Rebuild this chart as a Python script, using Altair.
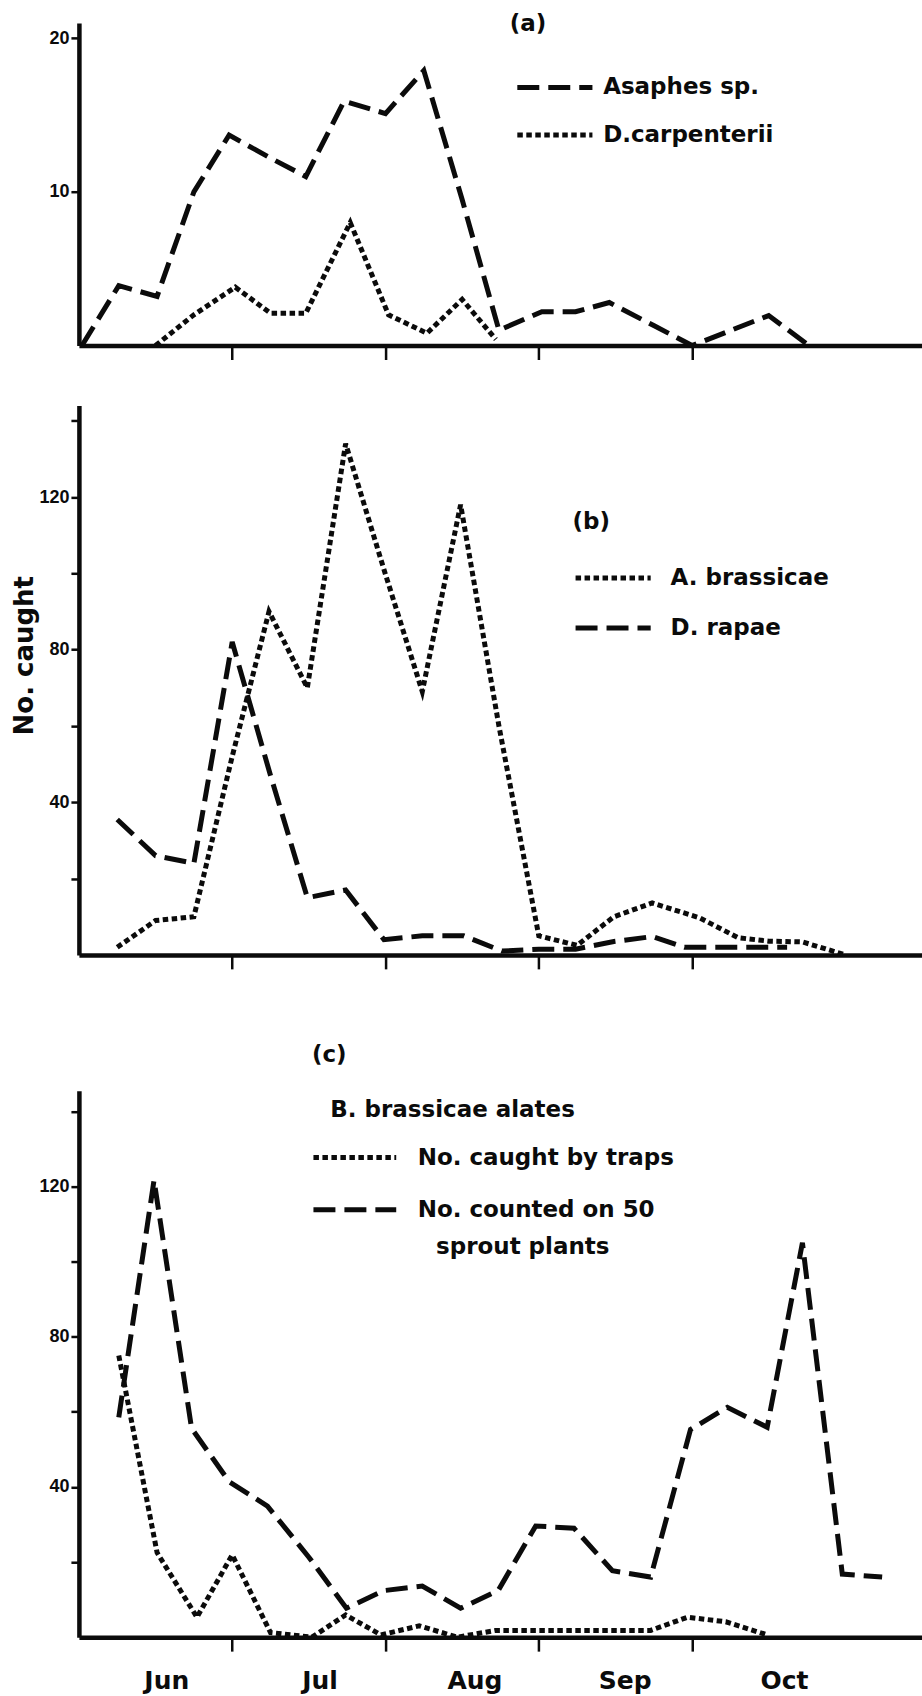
import altair as alt
import pandas as pd

# x positions are in months after 1 June (1 = 1 Jul, 2 = 1 Aug, ...)
MONTHS = ["Jun", "Jul", "Aug", "Sep", "Oct"]
MONTH_LABEL_POS = [0.57, 1.57, 2.58, 3.56, 4.6]
MONTH_TICKS = [1, 2, 3, 4]
X_MAX = 5.5

# ---- (a) parasitoids ----
asaphes_x = [0.02, 0.26, 0.51, 0.75, 0.98, 1.25, 1.48, 1.73, 2.0, 2.25, 2.5,
             2.74, 3.02, 3.24, 3.46, 3.75, 4.0, 4.5, 4.75]
asaphes_y = [0, 3.9, 3.2, 10.0, 13.7, 12.2, 11.0, 15.9, 15.1, 17.9, 9.5,
             1.0, 2.2, 2.2, 2.8, 1.3, 0, 1.95, 0.1]
carp_x = [0.5, 0.75, 1.02, 1.25, 1.48, 1.77, 2.02, 2.27, 2.5, 2.72]
carp_y = [0, 2.0, 3.8, 2.1, 2.1, 8.0, 2.0, 0.8, 3.0, 0.4]

# ---- (b) ----
abras_x = [0.25, 0.5, 0.75, 1.0, 1.24, 1.49, 1.74, 1.99, 2.24, 2.49, 2.74,
           3.0, 3.25, 3.49, 3.74, 4.05, 4.3, 4.5, 4.72, 5.0]
abras_y = [2, 9, 10, 52, 90, 70, 134, 101, 69, 118, 60,
           5, 2.5, 10, 13.6, 9.7, 4.5, 3.6, 3.4, 0]
rapae_x = [0.25, 0.5, 0.75, 1.0, 1.25, 1.49, 1.74, 1.99, 2.24, 2.51, 2.76,
           3.0, 3.24, 3.49, 3.74, 3.95, 4.25, 4.62]
rapae_y = [35.5, 26, 24, 82, 47, 15, 17, 4, 5, 5, 1,
           1.5, 1.5, 3.5, 4.8, 2, 2, 2]

# ---- (c) B. brassicae alates ----
traps_x = [0.26, 0.51, 0.77, 1.0, 1.25, 1.52, 1.74, 1.97, 2.22, 2.47, 2.72,
           2.97, 3.22, 3.47, 3.73, 3.97, 4.22, 4.49]
traps_y = [75, 22.5, 5.3, 21.9, 1.2, 0, 5.9, 0.6, 3.0, 0, 1.8,
           1.8, 1.8, 1.8, 1.8, 5.3, 4.1, 0.6]
plants_x = [0.26, 0.49, 0.735, 0.98, 1.23, 1.5, 1.745, 1.99, 2.24, 2.49, 2.735,
            2.98, 3.23, 3.48, 3.73, 3.99, 4.23, 4.49, 4.72, 4.98, 5.24]
plants_y = [58.5, 121.7, 55.6, 41.4, 34.9, 21.3, 7.7, 12.4, 13.6, 7.7, 12.4,
            29.6, 29.0, 17.7, 16.0, 55.3, 61.2, 55.9, 105, 16.8, 16.0]

INK = "#0b0b0b"
NUM_FONT = "Liberation Sans"
TXT_FONT = "DejaVu Sans"
WIDTH = 844

DASH = alt.Scale(domain=["dashed", "dotted"], range=[[22, 9], [5.5, 3.5]])


def lines_frame(*series):
    frames = []
    for name, style, xs, ys in series:
        frames.append(pd.DataFrame({"m": xs, "v": ys, "series": name, "style": style}))
    return pd.concat(frames, ignore_index=True)


def panel(lines, keys, texts, y_max, height, y_values, y_label_expr,
          y_title=None, month_labels=False):
    if month_labels:
        x_axis = alt.Axis(
            values=MONTH_TICKS + MONTH_LABEL_POS,
            tickOpacity={"condition": {"test": "datum.value % 1 === 0", "value": 1}, "value": 0},
            labelExpr="datum.value % 1 === 0 ? '' : " + str(MONTHS) + "[floor(datum.value)]",
            labelFont=TXT_FONT, labelFontSize=25, labelFontWeight="bold",
            labelColor=INK, labelPadding=17, labelOverlap=False, labelFlush=False,
            tickSize=14, tickWidth=2.5, tickColor=INK,
            domainWidth=4.5, domainColor=INK, grid=False, title=None,
        )
    else:
        x_axis = alt.Axis(
            values=MONTH_TICKS, labels=False, tickSize=14, tickWidth=2.5,
            tickColor=INK, domainWidth=4.5, domainColor=INK, grid=False, title=None,
        )
    y_axis_kw = dict(
        values=y_values, labelExpr=y_label_expr,
        labelFont=NUM_FONT, labelFontSize=18, labelFontWeight="bold",
        labelColor=INK, labelPadding=2, tickSize=8, tickWidth=2.5,
        tickColor=INK, domainWidth=4.5, domainColor=INK, grid=False,
    )
    if y_title:
        y_axis = alt.Axis(title=y_title, titleFont=TXT_FONT, titleFontSize=26,
                          titleFontWeight="bold", titleColor=INK,
                          titleAngle=270, titleAlign="center", titleBaseline="middle",
                          titleX=-54, titleY=250, **y_axis_kw)
    else:
        y_axis = alt.Axis(title=None, **y_axis_kw)

    xs = alt.Scale(domain=[0, X_MAX], nice=False, zero=False)
    ys = alt.Scale(domain=[0, y_max], nice=False, zero=False)

    line_layer = alt.Chart(lines).mark_line(
        strokeWidth=5, strokeCap="butt", strokeJoin="miter", color=INK
    ).encode(
        x=alt.X("m:Q", scale=xs, axis=x_axis, title=None),
        y=alt.Y("v:Q", scale=ys, axis=y_axis, title=y_title),
        strokeDash=alt.StrokeDash("style:N", scale=DASH, legend=None),
        detail="series:N",
    )
    key_layer = alt.Chart(keys).mark_rule(
        strokeWidth=5, strokeCap="butt", color=INK
    ).encode(
        x=alt.X("m:Q", title=None),
        x2="m2:Q",
        y=alt.Y("v:Q", title=y_title),
        strokeDash=alt.StrokeDash("style:N", scale=DASH, legend=None),
    )
    text_layer = alt.Chart(texts).mark_text(
        align="left", baseline="middle", font=TXT_FONT, fontSize=23,
        fontWeight="bold", color=INK,
    ).encode(
        x=alt.X("m:Q", title=None),
        y=alt.Y("v:Q", title=y_title),
        text="t:N",
    )
    return alt.layer(line_layer, key_layer, text_layer).properties(
        width=WIDTH, height=height
    )


# panel (a)
lines_a = lines_frame(("Asaphes", "dashed", asaphes_x, asaphes_y),
                      ("carpenterii", "dotted", carp_x, carp_y))
keys_a = pd.DataFrame({"m": [2.86, 2.86], "m2": [3.35, 3.35], "v": [16.8, 13.7],
                       "style": ["dashed", "dotted"]})
texts_a = pd.DataFrame({"t": ["(a)", "Asaphes  sp.", "D.carpenterii"],
                        "m": [2.81, 3.42, 3.42], "v": [20.9, 16.8, 13.7]})
chart_a = panel(lines_a, keys_a, texts_a, 21, 323, [10, 20],
                "datum.label")

# panel (b)
lines_b = lines_frame(("A. brassicae", "dotted", abras_x, abras_y),
                      ("D. rapae", "dashed", rapae_x, rapae_y))
keys_b = pd.DataFrame({"m": [3.24, 3.24], "m2": [3.73, 3.73], "v": [98.8, 85.7],
                       "style": ["dotted", "dashed"]})
texts_b = pd.DataFrame({"t": ["(b)", "A. brassicae", "D. rapae"],
                        "m": [3.22, 3.86, 3.86], "v": [113.4, 98.8, 85.7]})
chart_b = panel(lines_b, keys_b, texts_b, 144, 550, [20, 40, 60, 80, 100, 120, 140],
                "datum.value % 40 === 0 ? datum.label : ''", y_title="No. caught")

# panel (c)
lines_c = lines_frame(("traps", "dotted", traps_x, traps_y),
                      ("plants", "dashed", plants_x, plants_y))
keys_c = pd.DataFrame({"m": [1.53, 1.53], "m2": [2.07, 2.07], "v": [127.7, 113.8],
                       "style": ["dotted", "dashed"]})
texts_c = pd.DataFrame({"t": ["(c)", "B. brassicae  alates", "No. caught  by  traps",
                              "No. counted on 50", "sprout  plants"],
                        "m": [1.52, 1.64, 2.21, 2.21, 2.33],
                        "v": [155, 140.4, 127.7, 113.8, 104]})
chart_c = panel(lines_c, keys_c, texts_c, 145.5, 547, [20, 40, 60, 80, 100, 120, 140],
                "datum.value % 40 === 0 ? datum.label : ''", month_labels=True)

# empty band that widens the gap above panel (c)
spacer = alt.Chart(pd.DataFrame({"z": [0]})).mark_point(opacity=0).encode(
    x=alt.value(0), y=alt.value(0)
).properties(width=WIDTH, height=16)

chart = alt.vconcat(chart_a, chart_b, spacer, chart_c, spacing=60,
                    bounds="flush").properties(
    padding={"left": 12, "top": 12, "right": 0, "bottom": 0},
    background="white",
).configure_view(stroke=None)

chart.save("out.html", embed_options={"renderer": "svg", "actions": False})
